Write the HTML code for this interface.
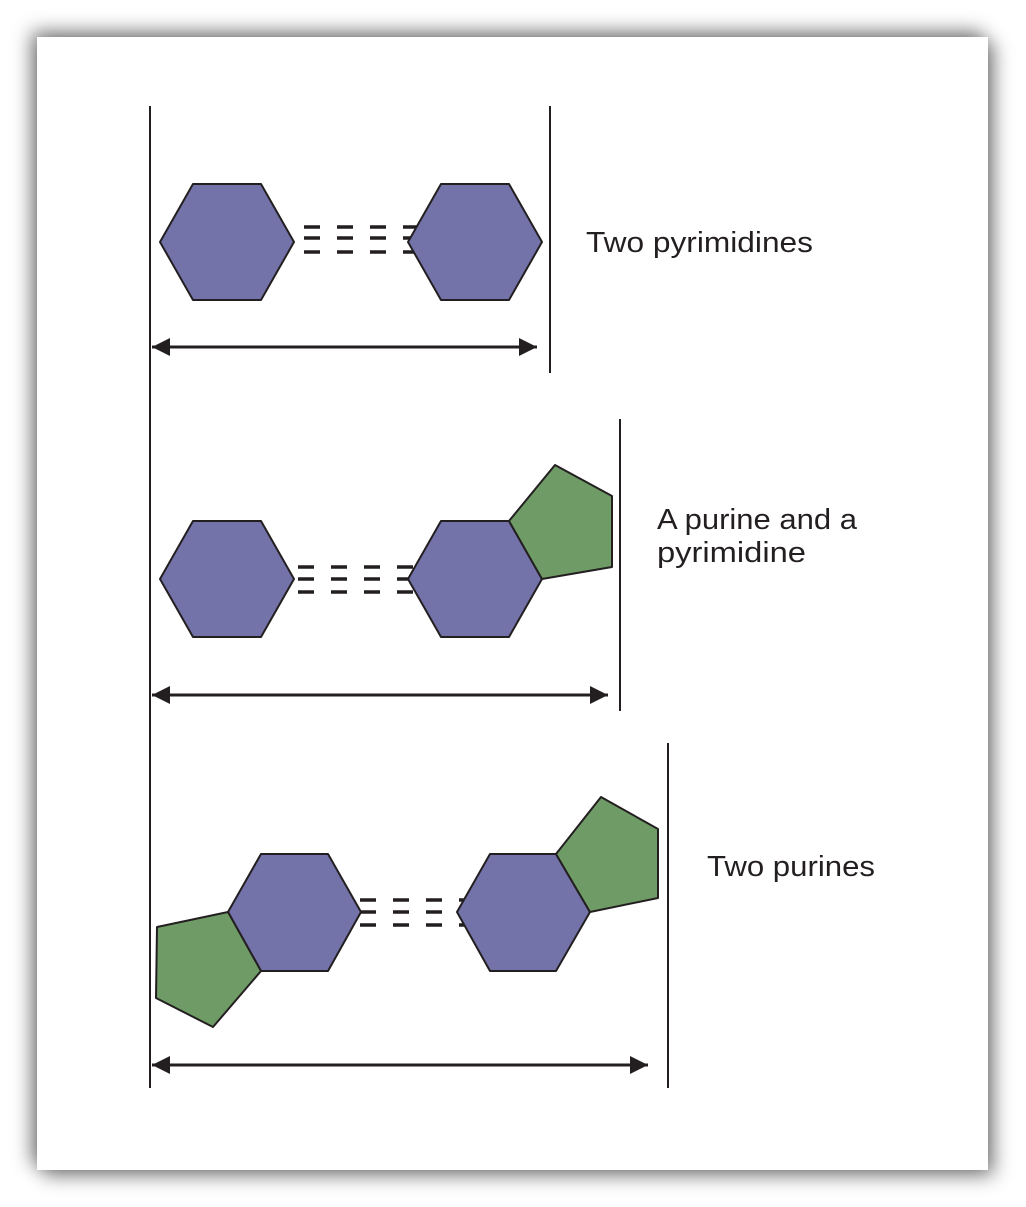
<!DOCTYPE html>
<html><head><style>
body{margin:0;background:#fff;width:1026px;height:1207px;overflow:hidden}
.panel{position:absolute;left:37px;top:37px;width:951px;height:1133px;background:#fff;box-shadow:-6px -6px 18px rgba(0,0,0,.45),6px 6px 18px rgba(0,0,0,.45)}
svg{position:absolute;left:0;top:0}
text{font-family:"Liberation Sans",sans-serif;font-size:29px;fill:#231f20}
</style></head><body>
<div class="panel"></div>
<svg width="1026" height="1207">
<defs>
<marker id="a" viewBox="0 0 10 10" refX="10" refY="5" markerWidth="6" markerHeight="6" markerUnits="strokeWidth" orient="auto-start-reverse"><path d="M0,0L10,5L0,10z" fill="#231f20"/></marker>
</defs>
<g stroke="#231f20" stroke-width="2">
<line x1="150" y1="106" x2="150" y2="1088"/>
<line x1="550" y1="106" x2="550" y2="373"/>
<line x1="620" y1="419" x2="620" y2="711"/>
<line x1="668" y1="743" x2="668" y2="1088"/>
<line x1="152" y1="347" x2="537" y2="347" stroke-width="3" marker-start="url(#a)" marker-end="url(#a)"/>
<line x1="152" y1="695" x2="608" y2="695" stroke-width="3" marker-start="url(#a)" marker-end="url(#a)"/>
<line x1="152" y1="1065" x2="648" y2="1065" stroke-width="3" marker-start="url(#a)" marker-end="url(#a)"/>
</g>
<g stroke="#231f20" stroke-width="3.5" stroke-dasharray="16 17">
<path d="M287,227H421M287,238H421M287,252H421" stroke-dashoffset="-17"/>
<path d="M298,567H421M298,579H421M298,592H421"/>
<path d="M360,900H470M360,912H470M360,925H470"/>
</g>
<g stroke="#231f20" stroke-width="2" stroke-linejoin="round">
<polygon fill="#7373aa" points="160,242 193,184 261,184 294,242 261,300 193,300"/>
<polygon fill="#7373aa" points="408,242 441,184 509,184 542,242 509,300 441,300"/>
<polygon fill="#7373aa" points="160,579 193,521 261,521 294,579 261,637 193,637"/>
<polygon fill="#7373aa" points="408,579 441,521 509,521 542,579 509,637 441,637"/>
<polygon fill="#6f9c66" points="509,521 555,465 612,496 612,567 542,579"/>
<polygon fill="#7373aa" points="228,912 261,854 328,854 361,912 328,971 261,971"/>
<polygon fill="#6f9c66" points="228,912 261,971 213,1027 156,998 157,927"/>
<polygon fill="#7373aa" points="457,912 490,854 556,854 590,912 556,971 490,971"/>
<polygon fill="#6f9c66" points="556,854 601,797 658,829 658,898 590,912"/>
</g>
<text x="586" y="252" textLength="227" lengthAdjust="spacingAndGlyphs">Two pyrimidines</text>
<text x="657" y="529" textLength="200" lengthAdjust="spacingAndGlyphs">A purine and a</text>
<text x="657" y="562" textLength="149" lengthAdjust="spacingAndGlyphs">pyrimidine</text>
<text x="707" y="876" textLength="168" lengthAdjust="spacingAndGlyphs">Two purines</text>
</svg>
</body></html>
